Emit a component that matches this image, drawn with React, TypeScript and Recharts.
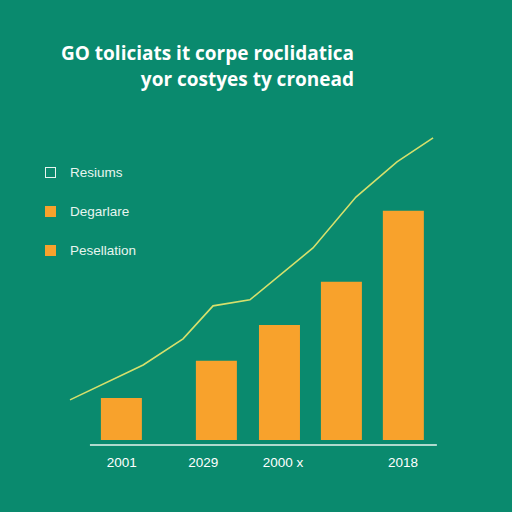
import {
  Bar,
  BarChart,
  Line,
  LineChart,
  ReferenceLine,
  XAxis,
  YAxis,
} from 'recharts';

// positions along a 0-100 horizontal track, values on a 0-100 scale
const barPositions = [14.7, 39.7, 56.3, 72.6, 88.9];
const barValues = [13.1, 24.7, 35.9, 49.4, 71.6];

const linePositions = [1.05, 20.3, 30.8, 38.7, 48.4, 65, 76.3, 87.1, 96.6];
const lineValues = [12.5, 23.4, 31.6, 41.9, 43.8, 60, 75.9, 86.9, 94.4];

const tickPositions = [14.7, 36.1, 57.1, 88.7];
const tickLabels = ['2001', '2029', '2000 x', '2018'];

const legendNames = ['Resiums', 'Degarlare', 'Pesellation'];
const legendHollow = [true, false, false];

const titleLines = ['GO toliciats it corpe roclidatica', 'yor costyes ty cronead'];

const BG = '#0a8a6e';
const ORANGE = '#f8a22c';
const LINE = '#d6e06c';
const BAR_MARGIN = { top: 120, right: 66, bottom: 37, left: 66 };
const LINE_MARGIN = { top: 120, right: 66, bottom: 67, left: 66 };

const barRows = barPositions.map((x, i) => ({ x, bar: barValues[i] }));
const lineRows = linePositions.map((x, i) => ({ x, line: lineValues[i] }));

function tickText(value: number): string {
  const i = tickPositions.indexOf(value);
  return i >= 0 ? tickLabels[i] : '';
}

const layer: React.CSSProperties = { position: 'absolute', left: 0, top: 0 };

export default function App() {
  return (
    <div
      style={{
        position: 'absolute',
        left: 0,
        top: 0,
        width: 512,
        height: 512,
        background: BG,
        fontFamily: '"Open Sans", "Noto Sans", sans-serif',
        overflow: 'hidden',
      }}
    >
      <div
        style={{
          position: 'absolute',
          right: 512 - 354,
          top: 40,
          textAlign: 'right',
          color: '#ffffff',
          fontWeight: 700,
          fontSize: 19,
          lineHeight: '26px',
          whiteSpace: 'nowrap',
        }}
      >
        {titleLines.map((t) => (
          <div key={t}>{t}</div>
        ))}
      </div>

      <div style={{ position: 'absolute', left: 45, top: 153 }}>
        {legendNames.map((name, i) => (
          <div key={name} style={{ display: 'flex', alignItems: 'center', height: 39 }}>
            <span
              style={{
                display: 'inline-block',
                width: 11,
                height: 11,
                boxSizing: 'border-box',
                border: legendHollow[i] ? '1.5px solid #e8f5ef' : 'none',
                background: legendHollow[i] ? 'transparent' : ORANGE,
                marginRight: 14,
              }}
            />
            <span style={{ color: '#e8f5ef', fontSize: 13.5, fontFamily: '"Liberation Sans", Arial, sans-serif' }}>
              {name}
            </span>
          </div>
        ))}
      </div>

      <div style={layer}>
        <BarChart width={512} height={512} data={barRows} margin={BAR_MARGIN}>
          <XAxis
            dataKey="x"
            type="number"
            domain={[0, 100]}
            ticks={tickPositions}
            tickFormatter={tickText}
            axisLine={false}
            tickLine={false}
            height={30}
            tickMargin={6}
            tick={{ fill: '#ffffff', fontSize: 13.5, fontFamily: '"Liberation Sans", Arial, sans-serif' }}
          />
          <YAxis hide type="number" domain={[-1.6, 100]} />
          <Bar dataKey="bar" fill={ORANGE} barSize={41} isAnimationActive={false} />
          <ReferenceLine
            segment={[
              { x: 6.3, y: -1.6 },
              { x: 97.6, y: -1.6 },
            ]}
            stroke="#e8f5ef"
            strokeWidth={1.5}
          />
        </BarChart>
      </div>

      <div style={layer}>
        <LineChart width={512} height={512} data={lineRows} margin={LINE_MARGIN}>
          <XAxis dataKey="x" type="number" domain={[0, 100]} hide />
          <YAxis hide type="number" domain={[-1.6, 100]} />
          <Line
            dataKey="line"
            type="linear"
            stroke={LINE}
            strokeWidth={1.6}
            dot={false}
            isAnimationActive={false}
          />
        </LineChart>
      </div>
    </div>
  );
}
